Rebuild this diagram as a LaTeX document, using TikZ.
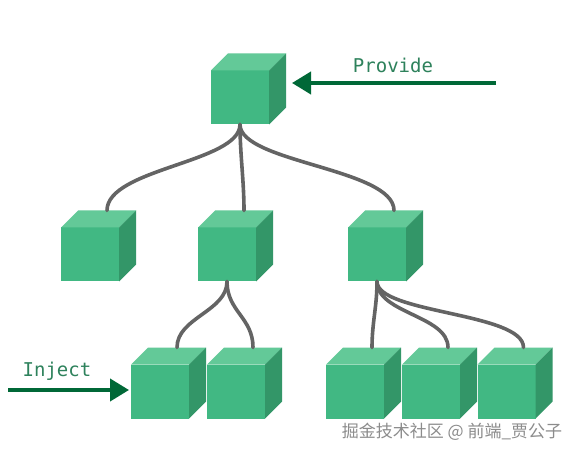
\documentclass[tikz,border=0pt]{standalone}
\usepackage{fontspec}
\newfontfamily\monofont{DejaVu Sans Mono}
\newfontfamily\cjkfont{Noto Sans CJK SC}
\usetikzlibrary{calc}
\definecolor{frontcol}{RGB}{65,184,131}
\definecolor{topcol}{RGB}{99,201,152}
\definecolor{sidecol}{RGB}{51,150,104}
\definecolor{arrowcol}{RGB}{0,104,55}
\definecolor{labelcol}{RGB}{46,130,92}
\definecolor{linkcol}{RGB}{100,100,100}
\definecolor{markcol}{RGB}{140,140,140}
\tikzset{
  front/.style={fill=frontcol, draw=none, minimum width=58pt, minimum height=54pt, inner sep=0pt, outer sep=0pt},
  link/.style={draw=linkcol, line width=3.6pt, line cap=round},
  pointer/.style={draw=arrowcol, line width=4pt, -{Triangle[length=19pt,width=22pt]}},
  label/.style={font=\monofont\fontsize{19}{19}\selectfont, text=labelcol, inner sep=0pt},
}
\usetikzlibrary{arrows.meta}
\newcommand\mycube[3]{%
  \node[front] (#1) at (#2,#3) {};
  \fill[topcol] (#1.north west) -- (#1.north east) -- ++(17,-17) -- ($(#1.north west)+(17,-17)$) -- cycle;
  \fill[sidecol] (#1.north east) -- (#1.south east) -- ++(17,-17) -- ($(#1.north east)+(17,-17)$) -- cycle;
  \coordinate (#1-t) at ($(#1.north)+(17,-17)$);
}
\begin{document}
\begin{tikzpicture}[x=1pt,y=-1pt]
\useasboundingbox[fill=white] (0,0) rectangle (578,454);
\mycube{root}{240}{97.5}
\mycube{a}{90}{254.5}
\mycube{b}{227}{254.5}
\mycube{c}{377}{254.5}
\mycube{d}{160}{391.5}
\mycube{e}{236}{391.5}
\mycube{f}{355}{391.5}
\mycube{g}{431}{391.5}
\mycube{h}{506.5}{391.5}
% connectors
\draw[link] (root.south) .. controls +(0,38) and +(0,-42) .. (a-t);
\draw[link] (root.south) .. controls +(0,30) and +(0,-30) .. (b-t);
\draw[link] (root.south) .. controls +(0,38) and +(0,-42) .. (c-t);
\draw[link] (b.south) .. controls +(0,30) and +(0,-30) .. (d-t);
\draw[link] (b.south) .. controls +(0,30) and +(0,-30) .. (e-t);
\draw[link] (c.south) .. controls +(0,25) and +(0,-25) .. (f-t);
\draw[link] (c.south) .. controls +(0,32) and +(0,-32) .. (g-t);
\draw[link] (c.south) .. controls +(0,32) and +(0,-35) .. (h-t);
% provide / inject
\coordinate (pstart) at (496,83);
\coordinate (pend) at (292,83);
\draw[pointer] (pstart) -- (pend);
\node[label] (provide) at (393,65) {Provide};
\coordinate (istart) at (8,390);
\coordinate (iend) at (129,390);
\draw[pointer] (istart) -- (iend);
\node[label] (inject) at (57,371) {Inject};
% watermark
\node[font=\cjkfont\fontsize{17}{17}\selectfont, text=markcol, inner sep=0pt] (mark) at (452,432) {掘金技术社区 @ 前端\_贾公子};
\end{tikzpicture}
\end{document}
